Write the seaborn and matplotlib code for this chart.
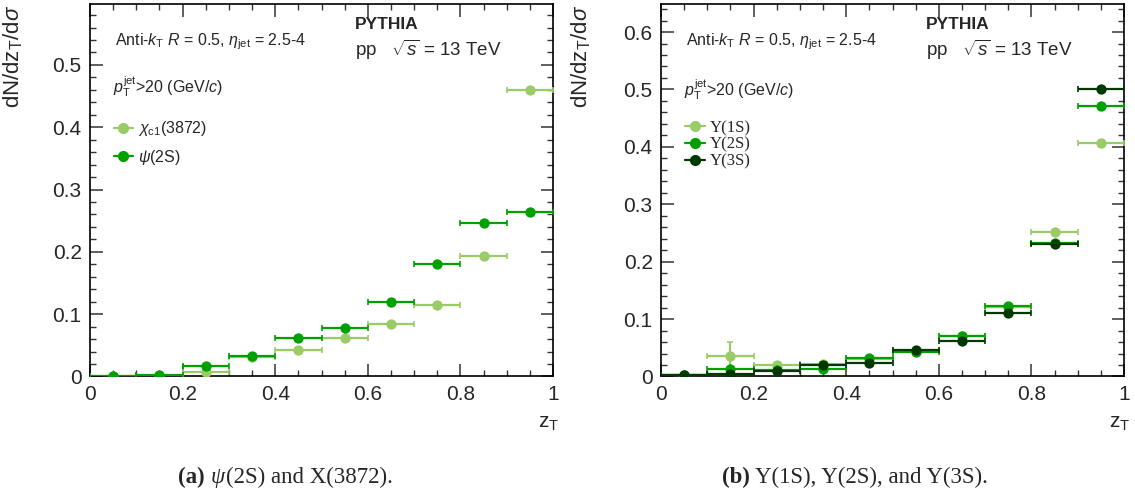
"""Fragmentation-like z_T distributions from PYTHIA, two panels"""

import matplotlib.pyplot as plt
import matplotlib.ticker as mticker
from matplotlib.lines import Line2D
import pandas as pd
import seaborn as sns

# bin centres and half-width in z_T
z_bins = [0.05, 0.15, 0.25, 0.35, 0.45, 0.55, 0.65, 0.75, 0.85, 0.95]
bin_half = 0.05

# panel (a)
chic1_3872 = [0.000, 0.001, 0.008, 0.031, 0.043, 0.062, 0.085, 0.115, 0.194, 0.460]
psi_2s = [0.000, 0.002, 0.017, 0.033, 0.062, 0.078, 0.119, 0.181, 0.247, 0.264]

# panel (b)
ups_1s = [0.003, 0.035, 0.020, 0.022, 0.030, 0.045, 0.070, 0.121, 0.251, 0.407]
ups_1s_err = [0.001, 0.025, 0.003, 0.003, 0.002, 0.002, 0.002, 0.002, 0.003, 0.003]
ups_2s = [0.003, 0.013, 0.011, 0.013, 0.032, 0.042, 0.071, 0.123, 0.232, 0.471]
ups_3s = [0.003, 0.004, 0.010, 0.020, 0.024, 0.047, 0.061, 0.111, 0.231, 0.500]

c_light = '#99cc66'
c_mid = '#00a000'
c_dark = '#003800'

sns.set_theme(style='ticks')
plt.rcParams['font.family'] = ['Liberation Sans', 'DejaVu Sans']
plt.rcParams['mathtext.fontset'] = 'custom'
plt.rcParams['mathtext.rm'] = 'Liberation Sans'
plt.rcParams['mathtext.it'] = 'Liberation Sans:italic'
plt.rcParams['mathtext.bf'] = 'Liberation Sans:bold'

fig = plt.figure(figsize=(11.35, 4.98), dpi=100)
ax_a = fig.add_axes([0.0793, 0.244, 0.408, 0.747])
ax_b = fig.add_axes([0.5824, 0.244, 0.408, 0.747])


def draw_series(ax, y, color, zo, yerr=None):
    df = pd.DataFrame({'z': z_bins, 'val': y})
    ax.errorbar(df['z'], df['val'], xerr=bin_half, yerr=yerr, fmt='none',
                ecolor=color, elinewidth=1.6, capsize=2, capthick=1.2, zorder=zo)
    sns.scatterplot(data=df, x='z', y='val', ax=ax, color=color, s=55,
                    linewidth=0, zorder=zo + 0.5, legend=False)


def style_axes(ax, ytop, lab_x):
    ax.set_xlim(0, 1)
    ax.set_ylim(0, ytop)
    ax.xaxis.set_major_locator(mticker.MultipleLocator(0.2))
    ax.xaxis.set_minor_locator(mticker.MultipleLocator(0.05))
    ax.yaxis.set_major_locator(mticker.MultipleLocator(0.1))
    ax.yaxis.set_minor_locator(mticker.MultipleLocator(0.02))
    fmt = mticker.FuncFormatter(lambda v, p: f'{v:g}')
    ax.xaxis.set_major_formatter(fmt)
    ax.yaxis.set_major_formatter(fmt)
    ax.tick_params(which='both', direction='in', top=True, right=True,
                   labelsize=15, color='#333333', pad=6)
    ax.tick_params(which='major', length=9, width=1.1)
    ax.tick_params(which='minor', length=4.5, width=1.0)
    for sp in ax.spines.values():
        sp.set_linewidth(1.2)
        sp.set_color('black')
    ax.set_xlabel(r'z$_{\mathrm{T}}$', fontsize=15)
    ax.xaxis.set_label_coords(0.99, -0.10)
    ax.set_ylabel(r'dN/dz$_{\mathrm{T}}$/d$\sigma$', fontsize=16, ha='right')
    ax.yaxis.set_label_coords(lab_x, 1.0)
    ax.text(0.054, 0.90, r'Anti-$k_{\mathrm{T}}$ $R$ = 0.5, $\eta_{\mathrm{jet}}$ = 2.5-4',
            transform=ax.transAxes, fontsize=11.5, va='center')
    ax.text(0.572, 0.945, 'PYTHIA', transform=ax.transAxes, fontsize=12.5,
            fontweight='bold', va='center')
    ax.text(0.572, 0.877, r'pp   $\sqrt{s}$ = 13 TeV', transform=ax.transAxes,
            fontsize=13.5, va='center')


# panel (a)
draw_series(ax_a, chic1_3872, c_light, 3)
draw_series(ax_a, psi_2s, c_mid, 4)
style_axes(ax_a, 0.597, -0.14)
ax_a.text(0.05, 0.78, r'$p_{\mathrm{T}}^{\mathrm{jet}}$>20 (GeV/$c$)',
          transform=ax_a.transAxes, fontsize=11.5, va='center')
handles_a = [Line2D([], [], color=c, marker='o', markersize=7, lw=1.6)
             for c in (c_light, c_mid)]
ax_a.legend(handles_a, [r'$\chi_{\mathrm{c1}}$(3872)', r'$\psi$(2S)'],
            loc='upper left', bbox_to_anchor=(0.02, 0.73), frameon=False,
            fontsize=11.5, handlelength=1.2, handletextpad=0.3, labelspacing=0.6)

# panel (b)
draw_series(ax_b, ups_1s, c_light, 3, yerr=ups_1s_err)
draw_series(ax_b, ups_2s, c_mid, 4)
draw_series(ax_b, ups_3s, c_dark, 5)
style_axes(ax_b, 0.648, -0.147)
ax_b.text(0.05, 0.77, r'$p_{\mathrm{T}}^{\mathrm{jet}}$>20 (GeV/$c$)',
          transform=ax_b.transAxes, fontsize=11.5, va='center')
handles_b = [Line2D([], [], color=c, marker='o', markersize=7, lw=1.6)
             for c in (c_light, c_mid, c_dark)]
ax_b.legend(handles_b, ['Υ(1S)', 'Υ(2S)', 'Υ(3S)'],
            loc='upper left', bbox_to_anchor=(0.02, 0.73), frameon=False,
            prop={'family': 'Liberation Serif', 'size': 12},
            handlelength=1.2, handletextpad=0.3, labelspacing=0.05)

# captions below the panels
serif = 'Liberation Serif'
cap_size = 16.5
c1 = fig.text(0.157, 0.03, '(a)', fontsize=cap_size, fontweight='bold',
              family=serif, va='baseline')
c2 = fig.text(0, 0, 'ψ', fontsize=cap_size, style='italic', family=serif,
              va='baseline')
c2.remove()
c2 = plt.annotate('ψ', xy=(1, 0), xycoords=c1, xytext=(4, 0),
                  textcoords='offset points', fontsize=cap_size, style='italic',
                  family=serif, va='bottom')
plt.annotate('(2S) and X(3872).', xy=(1, 0), xycoords=c2, xytext=(1, 0),
             textcoords='offset points', fontsize=cap_size, family=serif,
             va='bottom')
d1 = fig.text(0.636, 0.03, '(b)', fontsize=cap_size, fontweight='bold',
              family=serif, va='baseline')
plt.annotate('Υ(1S), Υ(2S), and Υ(3S).', xy=(1, 0), xycoords=d1, xytext=(4, 0),
             textcoords='offset points', fontsize=cap_size, family=serif,
             va='bottom')

fig.savefig('out.png', dpi=100)
